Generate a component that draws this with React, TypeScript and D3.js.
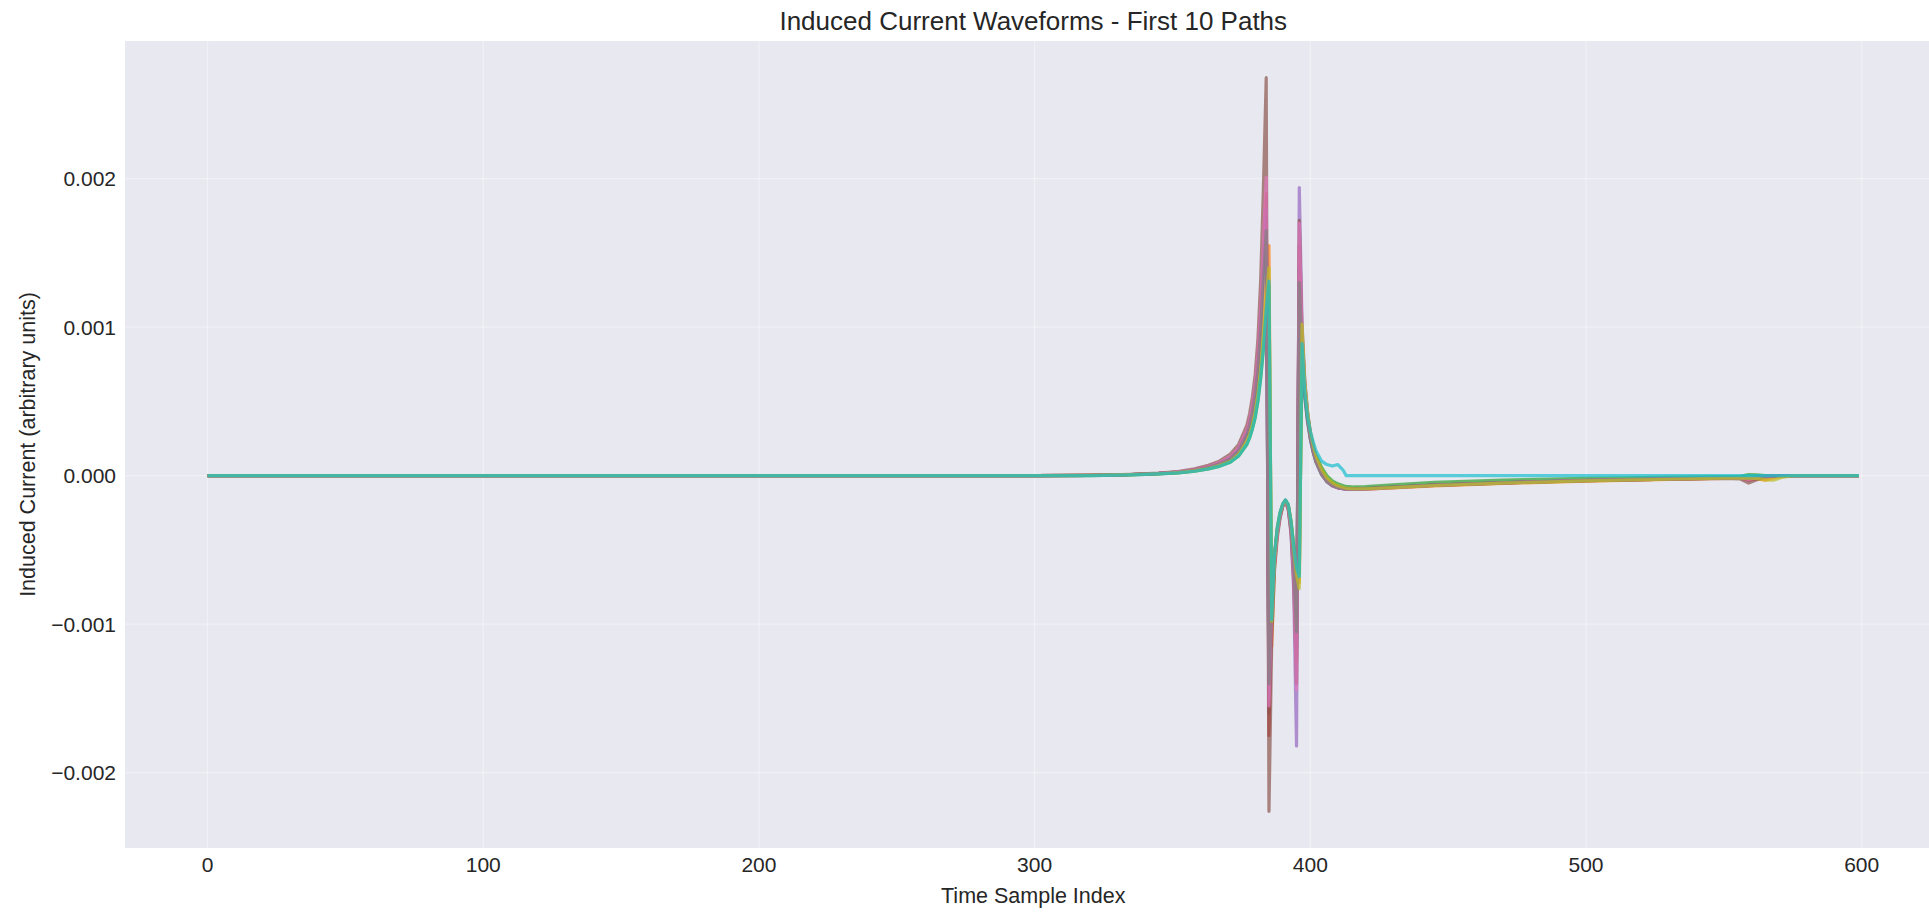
import React from "react";
import * as d3 from "d3";

const sampleIdx = [
  0, 300, 320, 335, 345, 352, 358, 363, 367, 371,
  374, 377, 378, 379, 380, 381, 382, 383, 384, 385,
  386, 387, 388, 389, 390, 391, 392, 393, 394, 395,
  396, 397, 398, 399, 400, 401, 402, 404, 406, 408,
  410, 412, 413, 416, 420, 430, 445, 470, 500, 530,
  550, 556, 559, 562, 565, 568, 571, 575, 599,
];

// Values in units of 1e-4 (arbitrary units)
const path1 = [
  0, 0, 0.02, 0.08, 0.15, 0.24, 0.37, 0.56, 0.8, 1.18,
  1.75, 2.85, 3.5, 4.4, 5.6, 7.4, 10.3, 14.0, 17.5, -16.0,
  -8.8, -5.6, -3.85, -2.7, -2.0, -1.68, -2.1, -3.4, -6.3, -11.5,
  14.0, 8.2, 5.4, 3.7, 2.5, 1.6, 0.95, 0.1, -0.4, -0.68,
  -0.82, -0.88, -0.9, -0.9, -0.87, -0.77, -0.63, -0.47, -0.32, -0.22,
  -0.15, -0.14, -0.18, -0.1, -0.04, -0.01, 0, 0, 0,
];
const path2 = [
  0, 0, 0.02, 0.07, 0.13, 0.21, 0.33, 0.5, 0.7, 1.02,
  1.5, 2.4, 2.95, 3.65, 4.6, 5.9, 7.8, 10.3, 13.2, 15.5,
  -11.5, -6.2, -3.9, -2.7, -2.0, -1.68, -2.0, -3.1, -4.9, -6.4,
  -7.2, 9.6, 6.0, 4.1, 2.9, 2.0, 1.3, 0.4, -0.2, -0.5,
  -0.7, -0.82, -0.86, -0.9, -0.9, -0.82, -0.68, -0.52, -0.36, -0.25,
  -0.18, -0.16, -0.2, -0.22, -0.3, -0.15, -0.05, 0, 0,
];
const path3 = [
  0, 0, 0.01, 0.06, 0.12, 0.19, 0.3, 0.45, 0.63, 0.9,
  1.32, 2.1, 2.55, 3.15, 3.9, 5.0, 6.5, 8.5, 10.9, 12.8,
  -9.5, -5.3, -3.5, -2.5, -1.9, -1.64, -1.95, -3.05, -4.7, -6.0,
  -6.6, 8.5, 5.5, 3.9, 2.8, 2.0, 1.4, 0.6, 0.0, -0.35,
  -0.55, -0.68, -0.72, -0.76, -0.74, -0.62, -0.45, -0.3, -0.18, -0.1,
  -0.06, -0.05, 0.08, 0.06, 0, 0, 0, 0, 0,
];
const path4 = [
  0, 0, 0.02, 0.08, 0.15, 0.25, 0.39, 0.6, 0.85, 1.25,
  1.85, 3.0, 3.7, 4.6, 5.9, 7.9, 11.0, 15.0, 19.0, -17.5,
  -9.2, -5.8, -3.9, -2.75, -2.0, -1.7, -2.15, -3.5, -6.6, -12.5,
  15.5, 8.8, 5.7, 3.9, 2.6, 1.7, 1.0, 0.15, -0.38, -0.66,
  -0.8, -0.86, -0.88, -0.9, -0.88, -0.78, -0.64, -0.48, -0.33, -0.23,
  -0.16, -0.17, -0.3, -0.18, -0.06, -0.02, 0, 0, 0,
];
const path5 = [
  0, 0, 0.02, 0.08, 0.15, 0.24, 0.38, 0.58, 0.82, 1.2,
  1.8, 2.9, 3.6, 4.5, 5.7, 7.6, 10.6, 14.4, 18.0, -15.0,
  -8.6, -5.5, -3.8, -2.7, -2.0, -1.68, -2.25, -3.9, -7.8, -18.2,
  19.4, 10.2, 6.4, 4.3, 2.9, 1.85, 1.1, 0.2, -0.35, -0.64,
  -0.8, -0.87, -0.89, -0.9, -0.88, -0.78, -0.64, -0.48, -0.33, -0.23,
  -0.16, -0.15, -0.2, -0.12, -0.05, -0.02, 0, 0, 0,
];
const path6 = [
  0, 0, 0.03, 0.09, 0.17, 0.28, 0.46, 0.7, 0.98, 1.45,
  2.1, 3.4, 4.2, 5.3, 6.8, 9.2, 13.2, 19.5, 26.8, -22.6,
  -11.0, -6.4, -4.2, -2.9, -2.1, -1.75, -2.3, -3.8, -7.2, -14.0,
  17.2, 9.6, 6.2, 4.2, 2.8, 1.8, 1.1, 0.2, -0.35, -0.65,
  -0.8, -0.88, -0.9, -0.92, -0.9, -0.8, -0.66, -0.5, -0.34, -0.24,
  -0.18, -0.22, -0.5, -0.28, -0.1, -0.04, -0.02, 0, 0,
];
const path7 = [
  0, 0, 0.02, 0.08, 0.16, 0.26, 0.41, 0.62, 0.88, 1.3,
  1.9, 3.1, 3.8, 4.8, 6.1, 8.2, 11.4, 15.8, 20.1, -15.5,
  -9.0, -5.9, -4.0, -2.8, -2.05, -1.7, -2.2, -3.6, -7.0, -14.4,
  17.0, 9.4, 6.0, 4.1, 2.7, 1.75, 1.05, 0.15, -0.4, -0.7,
  -0.82, -0.9, -0.92, -0.93, -0.9, -0.8, -0.65, -0.48, -0.32, -0.22,
  -0.15, -0.16, -0.25, -0.15, -0.05, -0.02, 0, 0, 0,
];
const path8 = [
  0, 0, 0.02, 0.08, 0.14, 0.23, 0.36, 0.55, 0.78, 1.15,
  1.7, 2.75, 3.4, 4.25, 5.4, 7.1, 9.8, 13.3, 16.5, -14.0,
  -8.2, -5.3, -3.7, -2.65, -1.98, -1.67, -2.05, -3.3, -6.0, -10.5,
  13.0, 7.8, 5.2, 3.6, 2.45, 1.6, 0.95, 0.1, -0.4, -0.68,
  -0.82, -0.88, -0.9, -0.9, -0.87, -0.77, -0.63, -0.47, -0.32, -0.22,
  -0.15, -0.14, -0.2, -0.12, -0.05, -0.02, 0, 0, 0,
];
const path9 = [
  0, 0, 0.02, 0.07, 0.13, 0.21, 0.32, 0.48, 0.68, 0.98,
  1.45, 2.3, 2.8, 3.45, 4.3, 5.5, 7.2, 9.4, 12.0, 14.0,
  -9.8, -5.6, -3.6, -2.55, -1.95, -1.66, -2.0, -3.15, -5.0, -6.7,
  -7.6, 10.2, 6.3, 4.3, 3.0, 2.1, 1.35, 0.45, -0.15, -0.48,
  -0.68, -0.8, -0.85, -0.88, -0.88, -0.8, -0.66, -0.5, -0.35, -0.24,
  -0.17, -0.15, -0.16, -0.18, -0.28, -0.3, -0.12, 0, 0,
];
const path10 = [
  0, 0, 0.01, 0.06, 0.12, 0.19, 0.3, 0.46, 0.64, 0.92,
  1.35, 2.15, 2.6, 3.2, 4.0, 5.1, 6.7, 8.7, 11.2, 13.1,
  -9.7, -5.4, -3.55, -2.5, -1.9, -1.64, -1.95, -3.1, -4.8, -6.2,
  -6.8, 8.9, 5.6, 4.0, 3.0, 2.3, 1.7, 1.0, 0.75, 0.65,
  0.75, 0.35, 0, 0, 0, 0, 0, 0, 0, 0,
  0, 0, 0, 0, 0, 0, 0, 0, 0,
];

const VALUE_UNIT = 1e-4;
const paths = [path1, path2, path3, path4, path5, path6, path7, path8, path9, path10];
const pathColors = [
  "#1f77b4", "#ff7f0e", "#2ca02c", "#d62728", "#9467bd",
  "#8c564b", "#e377c2", "#7f7f7f", "#bcbd22", "#17becf",
];

const xTicks = [0, 100, 200, 300, 400, 500, 600];
const yTicks = [-0.002, -0.001, 0, 0.001, 0.002];

const titleText = "Induced Current Waveforms - First 10 Paths";
const xLabel = "Time Sample Index";
const yLabel = "Induced Current (arbitrary units)";

const W = 1929;
const H = 912;
const FONT = "'Liberation Sans', Arial, 'DejaVu Sans', sans-serif";

export default function App() {
  const left = 125;
  const top = 41;
  const bottom = 848;
  const right = 1941.5;

  const allVals = paths.flat().map((v) => v * VALUE_UNIT);
  const [yMin, yMax] = d3.extent(allVals) as [number, number];
  const yPad = (yMax - yMin) * 0.05;
  const xMin = d3.min(sampleIdx) as number;
  const xMax = d3.max(sampleIdx) as number;
  const xPad = (xMax - xMin) * 0.05;

  const x = d3.scaleLinear().domain([xMin - xPad, xMax + xPad]).range([left, right]);
  const y = d3.scaleLinear().domain([yMin - yPad, yMax + yPad]).range([bottom, top]);

  const line = d3
    .line<[number, number]>()
    .x((d) => x(d[0]))
    .y((d) => y(d[1]));

  const fmtY = d3.format(".3f");

  return (
    <>
      <style>{`html,body{margin:0;padding:0;overflow:hidden;background:#fff}`}</style>
      <svg width={W} height={H} style={{ display: "block" }} fontFamily={FONT}>
        <rect x={0} y={0} width={W} height={H} fill="#ffffff" />
        <defs>
          <clipPath id="plotClip">
            <rect x={left} y={top} width={right - left} height={bottom - top} />
          </clipPath>
        </defs>
        <rect x={left} y={top} width={right - left} height={bottom - top} fill="#E8E8F0" />
        {/* grid */}
        {xTicks.map((t) => (
          <line key={"gx" + t} x1={x(t)} x2={x(t)} y1={top} y2={bottom} stroke="#ffffff" strokeWidth={1.3} opacity={0.35} />
        ))}
        {yTicks.map((t) => (
          <line key={"gy" + t} x1={left} x2={right} y1={y(t)} y2={y(t)} stroke="#ffffff" strokeWidth={1.3} opacity={0.35} />
        ))}
        {/* lines */}
        <g clipPath="url(#plotClip)">
          {paths.map((vals, i) => {
            const pts: [number, number][] = sampleIdx.map((s, j) => [s, vals[j] * VALUE_UNIT]);
            return (
              <path
                key={"p" + i}
                d={line(pts) || ""}
                fill="none"
                stroke={pathColors[i]}
                strokeWidth={3.2}
                strokeOpacity={0.7}
                strokeLinejoin="round"
              />
            );
          })}
        </g>
        {/* x tick labels */}
        {xTicks.map((t) => (
          <text key={"tx" + t} x={x(t)} y={872} textAnchor="middle" fontSize={21} fill="#262626">
            {t}
          </text>
        ))}
        {/* y tick labels */}
        {yTicks.map((t) => (
          <text key={"ty" + t} x={116} y={y(t)} dy="0.36em" textAnchor="end" fontSize={21} fill="#262626">
            {fmtY(t)}
          </text>
        ))}
        <text x={(left + right) / 2} y={903} textAnchor="middle" fontSize={21.5} fill="#262626">
          {xLabel}
        </text>
        <text
          transform={`translate(35, ${(top + bottom) / 2}) rotate(-90)`}
          textAnchor="middle"
          fontSize={21.5}
          fill="#262626"
        >
          {yLabel}
        </text>
        <text x={(left + right) / 2} y={30} textAnchor="middle" fontSize={26} fill="#262626">
          {titleText}
        </text>
      </svg>
    </>
  );
}
